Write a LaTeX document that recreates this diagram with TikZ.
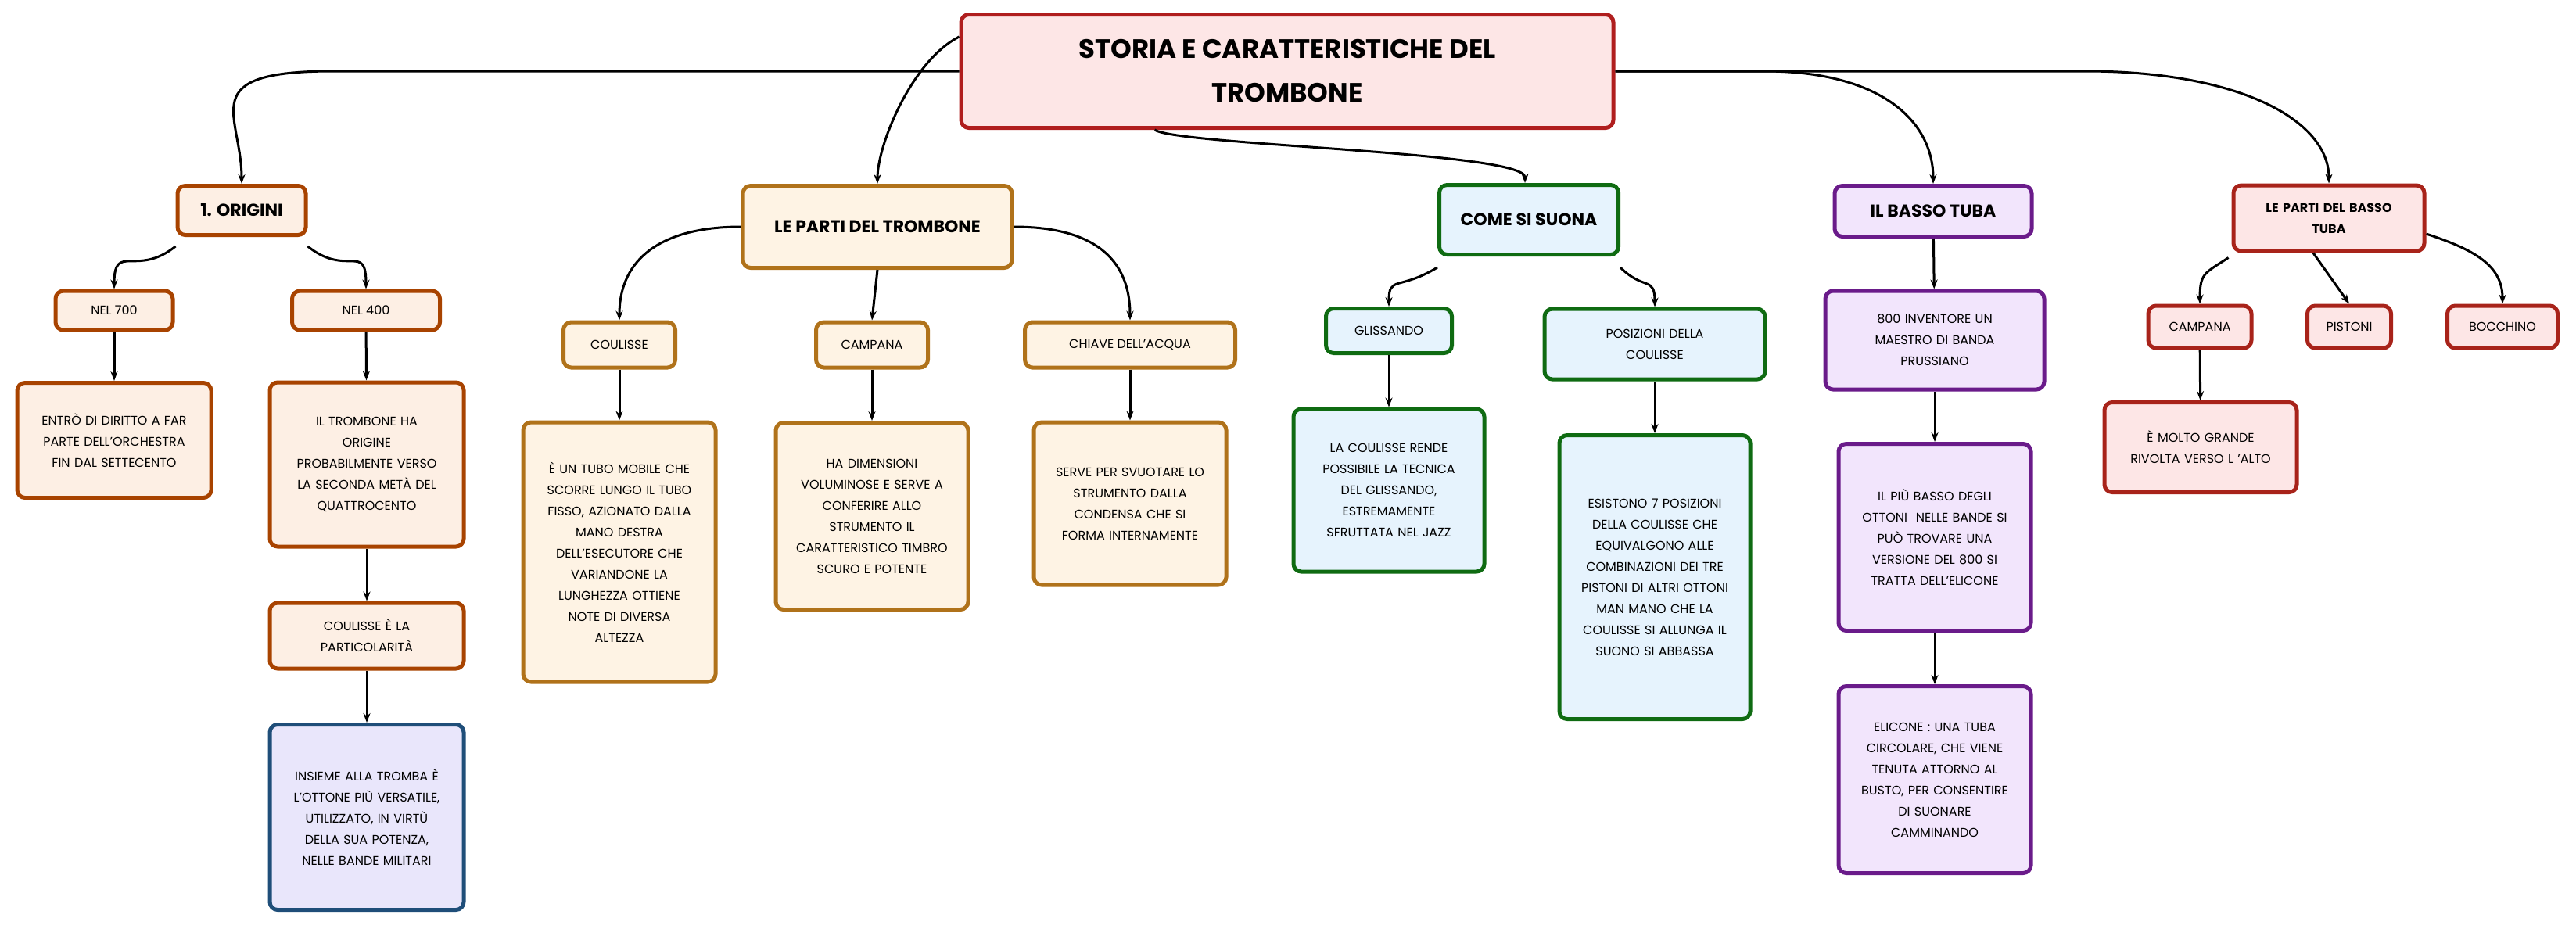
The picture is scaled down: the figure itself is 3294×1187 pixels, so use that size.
\documentclass[tikz,border=0pt]{standalone}
\usepackage{fontspec}
\setmainfont{Poppins}
\usetikzlibrary{arrows.meta}
\definecolor{orB}{HTML}{A84300}\definecolor{orF}{HTML}{FDEFE4}
\definecolor{yeB}{HTML}{B0721A}\definecolor{yeF}{HTML}{FEF3E4}
\definecolor{grB}{HTML}{0F6B12}\definecolor{grF}{HTML}{E6F3FD}
\definecolor{puB}{HTML}{6A1B8A}\definecolor{puF}{HTML}{F2E5FC}
\definecolor{reB}{HTML}{A8231A}\definecolor{reF}{HTML}{FDE6E6}
\definecolor{tiB}{HTML}{B01E1E}
\definecolor{blB}{HTML}{1F4E79}\definecolor{blF}{HTML}{E9E6FB}
\tikzset{
 bx/.style={draw, line width=5pt, rounded corners=10pt, align=center, inner sep=4pt,
   font=\fontsize{16}{27}\selectfont},
 orb/.style={bx, draw=orB, fill=orF},
 yeb/.style={bx, draw=yeB, fill=yeF},
 grb/.style={bx, draw=grB, fill=grF},
 pub/.style={bx, draw=puB, fill=puF},
 reb/.style={bx, draw=reB, fill=reF},
 hd/.style={font=\fontsize{22}{30}\selectfont\bfseries},
 ln/.style={line width=3pt, -{Stealth[length=12pt,width=9pt]}},
}
\begin{document}
\begin{tikzpicture}[x=1pt,y=-1pt]
\useasboundingbox (0,0) rectangle (3294,1187);
% title
\node[bx, draw=tiB, fill=reF, minimum width=834pt, minimum height=145pt, font=\fontsize{34}{56}\selectfont\bfseries] (t) at (1646,91) {STORIA E CARATTERISTICHE DEL\\TROMBONE};
% level 1
\node[orb, hd, minimum width=164pt, minimum height=63pt] (o) at (309,269) {1. ORIGINI};
\node[yeb, hd, minimum width=344pt, minimum height=105pt] (p) at (1122,290) {LE PARTI DEL TROMBONE};
\node[grb, hd, minimum width=229pt, minimum height=89pt] (c) at (1955,281) {COME SI SUONA};
\node[pub, hd, minimum width=252pt, minimum height=65pt] (b) at (2472,270) {IL BASSO TUBA};
\node[reb, font=\fontsize{16}{27}\selectfont\bfseries, text width=236pt, minimum height=84pt] (q) at (2978,279) {LE PARTI DEL BASSO\\TUBA};
% origini
\node[orb, minimum width=150pt, minimum height=50pt] (n7) at (146,397) {NEL 700};
\node[orb, minimum width=189pt, minimum height=50pt] (n4) at (468,397) {NEL 400};
\node[orb, text width=240pt, minimum height=147pt] (e) at (146,563) {ENTRÒ DI DIRITTO A FAR\\PARTE DELL'ORCHESTRA\\FIN DAL SETTECENTO};
\node[orb, text width=240pt, minimum height=210pt] (it) at (469,594) {IL TROMBONE HA\\ORIGINE\\PROBABILMENTE VERSO\\LA SECONDA METÀ DEL\\QUATTROCENTO};
\node[orb, text width=240pt, minimum height=84pt] (cp) at (469,813) {COULISSE È LA\\PARTICOLARITÀ};
\node[bx, draw=blB, fill=blF, text width=240pt, minimum height=237pt] (in) at (469,1045) {INSIEME ALLA TROMBA È\\L'OTTONE PIÙ VERSATILE,\\UTILIZZATO, IN VIRTÙ\\DELLA SUA POTENZA,\\NELLE BANDE MILITARI};
% parti trombone
\node[yeb, minimum width=143pt, minimum height=58pt] (pc) at (792,441) {COULISSE};
\node[yeb, minimum width=143pt, minimum height=58pt] (pa) at (1115,441) {CAMPANA};
\node[yeb, minimum width=269pt, minimum height=58pt] (pk) at (1445,441) {CHIAVE DELL'ACQUA};
\node[yeb, text width=238pt, minimum height=332pt] (pc2) at (792,706) {È UN TUBO MOBILE CHE\\SCORRE LUNGO IL TUBO\\FISSO, AZIONATO DALLA\\MANO DESTRA\\DELL'ESECUTORE CHE\\VARIANDONE LA\\LUNGHEZZA OTTIENE\\NOTE DI DIVERSA\\ALTEZZA};
\node[yeb, text width=238pt, minimum height=239pt] (pa2) at (1115,660) {HA DIMENSIONI\\VOLUMINOSE E SERVE A\\CONFERIRE ALLO\\STRUMENTO IL\\CARATTERISTICO TIMBRO\\SCURO E POTENTE};
\node[yeb, text width=238pt, minimum height=208pt] (pk2) at (1445,644) {SERVE PER SVUOTARE LO\\STRUMENTO DALLA\\CONDENSA CHE SI\\FORMA INTERNAMENTE};
% come si suona
\node[grb, minimum width=161pt, minimum height=57pt] (g) at (1776,423) {GLISSANDO};
\node[grb, text width=274pt, minimum height=90pt] (ps) at (2116,440) {POSIZIONI DELLA\\COULISSE};
\node[grb, text width=236pt, minimum height=208pt] (g2) at (1776,627) {LA COULISSE RENDE\\POSSIBILE LA TECNICA\\DEL GLISSANDO,\\ESTREMAMENTE\\SFRUTTATA NEL JAZZ};
\node[grb, text width=236pt, minimum height=363pt] (ps2) at (2116,738) {ESISTONO 7 POSIZIONI\\DELLA COULISSE CHE\\EQUIVALGONO ALLE\\COMBINAZIONI DEI TRE\\PISTONI DI ALTRI OTTONI\\MAN MANO CHE LA\\COULISSE SI ALLUNGA IL\\SUONO SI ABBASSA};
% basso tuba
\node[pub, text width=272pt, minimum height=126pt] (b1) at (2474,435) {800 INVENTORE UN\\MAESTRO DI BANDA\\PRUSSIANO};
\node[pub, text width=238pt, minimum height=239pt] (b2) at (2474,687) {IL PIÙ BASSO DEGLI\\OTTONI \ NELLE BANDE SI\\PUÒ TROVARE UNA\\VERSIONE DEL 800 SI\\TRATTA DELL'ELICONE};
\node[pub, text width=238pt, minimum height=239pt] (b3) at (2474,997) {ELICONE : UNA TUBA\\CIRCOLARE, CHE VIENE\\TENUTA ATTORNO AL\\BUSTO, PER CONSENTIRE\\DI SUONARE\\CAMMINANDO};
% parti basso tuba
\node[reb, minimum width=132pt, minimum height=54pt] (qc) at (2813,418) {CAMPANA};
\node[reb, minimum width=107pt, minimum height=54pt] (qp) at (3004,418) {PISTONI};
\node[reb, minimum width=141pt, minimum height=54pt] (qb) at (3200,418) {BOCCHINO};
\node[reb, text width=238pt, minimum height=115pt] (qc2) at (2814,572) {È MOLTO GRANDE\\RIVOLTA VERSO L 'ALTO\\[20pt]};
% connectors
\draw[ln] (t.west) -- ++(-800,0) .. controls +(-180,0) and +(0,-90) .. (o.north);
\draw[ln] ([yshift=44pt]t.west) .. controls +(-60,30) and +(0,-50) .. (p.north);
\draw[ln] ([xshift=250pt]t.south west) .. controls +(30,20) and +(0,-40) .. ([xshift=-5pt]c.north);
\draw[ln] (t.east) -- ++(190,0) .. controls +(150,0) and +(0,-80) .. (b.north);
\draw[ln] (t.east) -- ++(600,0) .. controls +(200,0) and +(0,-80) .. (q.north);
\draw[ln] ([yshift=-12pt]o.south west) .. controls +(-50,40) and +(0,-60) .. (n7.north);
\draw[ln] ([yshift=-12pt]o.south east) .. controls +(50,40) and +(0,-60) .. (n4.north);
\draw[ln] (n7) -- (e);
\draw[ln] (n4) -- (it);
\draw[ln] (it) -- (cp);
\draw[ln] (cp) -- (in);
\draw[ln] (p.west) .. controls +(-100,0) and +(0,-80) .. (pc.north);
\draw[ln] (p.south) -- (pa.north);
\draw[ln] (p.east) .. controls +(100,0) and +(0,-80) .. (pk.north);
\draw[ln] (pc) -- (pc2);
\draw[ln] (pa) -- (pa2);
\draw[ln] (pk) -- (pk2);
\draw[ln] ([yshift=-14pt]c.south west) .. controls +(-50,30) and +(0,-40) .. (g.north);
\draw[ln] ([yshift=-14pt]c.south east) .. controls +(30,30) and +(0,-40) .. (ps.north);
\draw[ln] (g) -- (g2);
\draw[ln] (ps) -- (ps2);
\draw[ln] (b) -- (b1);
\draw[ln] (b1) -- (b2);
\draw[ln] (b2) -- (b3);
\draw[ln] ([xshift=-4pt,yshift=-6pt]q.south west) .. controls +(-30,20) and +(0,-40) .. (qc.north);
\draw[ln] ([xshift=-20pt]q.south) -- (qp.north);
\draw[ln] ([yshift=-20pt]q.east) .. controls +(60,20) and +(0,-50) .. (qb.north);
\draw[ln] (qc) -- (qc2);
\end{tikzpicture}
\end{document}
